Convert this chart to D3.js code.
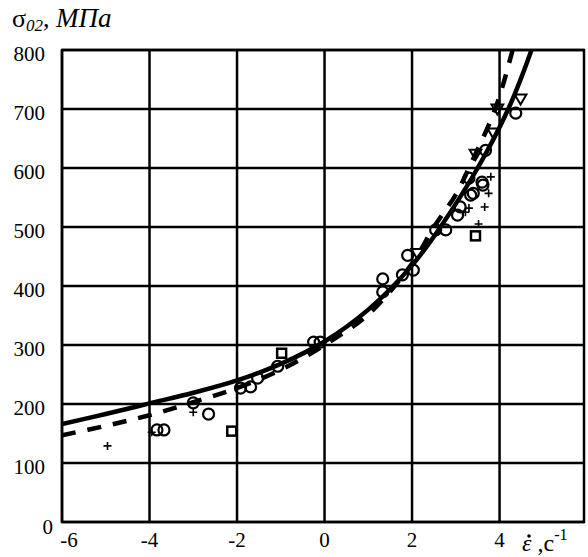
<!doctype html>
<html lang="ru">
  <head>
    <meta charset="UTF-8" />
    <title>σ02 vs strain rate</title>
    <script src="https://d3js.org/d3.v7.min.js"></script>
    <style>
      body {
        margin: 0;
        padding: 0;
        background: #fff;
      }
      svg text {
        font-family: 'Liberation Serif', 'Times New Roman', serif;
        fill: #000;
      }
      .tick-label {
        font-size: 21px;
      }
    </style>
  </head>
  <body>
    <div id="chart"></div>
    <script>
      // Data
      const xTicks = [-6, -4, -2, 0, 2, 4]
      const yTicks = [0, 100, 200, 300, 400, 500, 600, 700, 800]

      // solid fit curve
      const solidX = [-6, -5, -4, -3, -2, -1, 0, 1, 2, 2.65, 3.5, 4.2, 4.73, 4.9]
      const solidY = [166, 183, 201, 219, 240, 268, 306, 360, 435, 500, 600, 700, 800, 840]

      // dashed fit curve
      const dashX = [-6, -5, -4, -3, -2, -1, 0, 1, 2, 2.5, 3, 3.3, 3.9, 4.3, 4.45]
      const dashY = [147, 163, 181, 203, 227, 258, 300, 352, 438, 500, 555, 600, 700, 800, 840]

      // open circles
      const circleX = [-3.83, -3.67, -3.0, -2.65, -1.92, -1.69, -1.53, -1.07, -0.25, -0.1, 1.33, 1.33, 1.78, 1.9, 2.03, 2.54, 2.77, 3.04, 3.1, 3.3, 3.34, 3.4, 3.6, 3.62, 3.68, 4.37]
      const circleY = [156, 156, 202, 183, 227, 229, 244, 264, 305, 305, 412, 390, 419, 452, 427, 495, 495, 520, 534, 583, 554, 557, 576, 571, 630, 693]

      // plus signs
      const plusX = [-4.96, -3.95, -3.0, 3.22, 3.3, 3.52, 3.66, 3.75, 3.8]
      const plusY = [129, 152, 186, 525, 532, 505, 534, 557, 585]

      // open squares
      const squareX = [-2.12, -0.98, 3.45]
      const squareY = [154, 286, 485]

      // open triangles
      const triX = [2.12, 3.45, 3.86, 3.95, 4.48]
      const triY = [457, 625, 661, 702, 719]

      const W = 588
      const H = 557
      const pLeft = 62
      const pRight = 584
      const pTop = 50
      const pBottom = 522

      const svg = d3.select('#chart').append('svg').attr('width', W).attr('height', H)

      const x = d3.scaleLinear().domain([-6, 5.93]).range([pLeft, pRight])
      const y = d3.scaleLinear().domain([0, 800]).range([pBottom, pTop])

      svg
        .append('defs')
        .append('clipPath')
        .attr('id', 'plot-clip')
        .append('rect')
        .attr('x', pLeft)
        .attr('y', pTop)
        .attr('width', pRight - pLeft)
        .attr('height', pBottom - pTop)

      // grid
      const grid = svg.append('g').attr('stroke', '#000').attr('stroke-width', 2.5)
      grid
        .selectAll('.vline')
        .data(xTicks)
        .join('line')
        .attr('x1', (d) => x(d))
        .attr('x2', (d) => x(d))
        .attr('y1', pTop)
        .attr('y2', pBottom)
      grid
        .selectAll('.hline')
        .data(yTicks)
        .join('line')
        .attr('x1', pLeft)
        .attr('x2', pRight)
        .attr('y1', (d) => y(d))
        .attr('y2', (d) => y(d))
      grid
        .append('rect')
        .attr('x', pLeft)
        .attr('y', pTop)
        .attr('width', pRight - pLeft)
        .attr('height', pBottom - pTop)
        .attr('fill', 'none')

      // tick labels
      svg
        .selectAll('.ylab')
        .data(yTicks)
        .join('text')
        .attr('class', 'tick-label')
        .attr('text-anchor', 'end')
        .attr('x', (d) => (d === 0 ? 53 : 45))
        .attr('y', (d) => y(d) + (d === 0 ? 5 : 4))
        .attr('dy', '0.35em')
        .text((d) => d)

      svg
        .selectAll('.xlab')
        .data(xTicks)
        .join('text')
        .attr('class', 'tick-label')
        .attr('text-anchor', 'middle')
        .attr('x', (d) => x(d) + (d === -6 ? 7 : 0))
        .attr('y', 547)
        .text((d) => (d < 0 ? '-' + Math.abs(d) : d))

      // curves
      const plot = svg.append('g').attr('clip-path', 'url(#plot-clip)')
      const line = d3
        .line()
        .x((d) => x(d[0]))
        .y((d) => y(d[1]))
        .curve(d3.curveCatmullRom)

      plot
        .append('path')
        .attr('d', line(d3.zip(dashX, dashY)))
        .attr('fill', 'none')
        .attr('stroke', '#000')
        .attr('stroke-width', 4.5)
        .attr('stroke-dasharray', '14,12')

      plot
        .append('path')
        .attr('d', line(d3.zip(solidX, solidY)))
        .attr('fill', 'none')
        .attr('stroke', '#000')
        .attr('stroke-width', 4.5)

      // markers
      plot
        .selectAll('.circ')
        .data(d3.zip(circleX, circleY))
        .join('ellipse')
        .attr('cx', (d) => x(d[0]))
        .attr('cy', (d) => y(d[1]))
        .attr('rx', 5.5)
        .attr('ry', 5.5)
        .attr('fill', 'none')
        .attr('stroke', '#000')
        .attr('stroke-width', 2.2)

      plot
        .selectAll('.sq')
        .data(d3.zip(squareX, squareY))
        .join('rect')
        .attr('x', (d) => x(d[0]) - 4.5)
        .attr('y', (d) => y(d[1]) - 4.5)
        .attr('width', 9)
        .attr('height', 9)
        .attr('fill', 'none')
        .attr('stroke', '#000')
        .attr('stroke-width', 2.5)

      const tri = d3.symbol().type(d3.symbolTriangle).size(60)
      plot
        .selectAll('.tri')
        .data(d3.zip(triX, triY))
        .join('path')
        .attr('d', tri)
        .attr('transform', (d) => `translate(${x(d[0])},${y(d[1])}) rotate(180)`)
        .attr('fill', 'none')
        .attr('stroke', '#000')
        .attr('stroke-width', 2)

      plot
        .selectAll('.plus')
        .data(d3.zip(plusX, plusY))
        .join('path')
        .attr('d', (d) => {
          const cx = x(d[0])
          const cy = y(d[1])
          return `M${cx - 4},${cy}H${cx + 4}M${cx},${cy - 4}V${cy + 4}`
        })
        .attr('stroke', '#000')
        .attr('stroke-width', 1.6)

      // y axis title
      const title = svg.append('text').attr('x', 12).attr('y', 27).style('font-size', '26px')
      title.append('tspan').text('σ')
      title
        .append('tspan')
        .attr('dy', 4)
        .style('font-size', '17px')
        .style('font-style', 'italic')
        .text('02')
      title.append('tspan').attr('dy', -4).text(', ')
      title.append('tspan').style('font-style', 'italic').style('font-size', '27px').text('МПа')

      // x axis title
      const xt = svg.append('text').attr('x', 522).attr('y', 551).style('font-size', '24px')
      xt.append('tspan').style('font-style', 'italic').text('ε')
      xt.append('tspan').text(' ,с')
      xt.append('tspan').attr('dy', -11).style('font-size', '16px').text('-1')
      svg.append('circle').attr('cx', 529).attr('cy', 536).attr('r', 1.8).attr('fill', '#000')
    </script>
  </body>
</html>
